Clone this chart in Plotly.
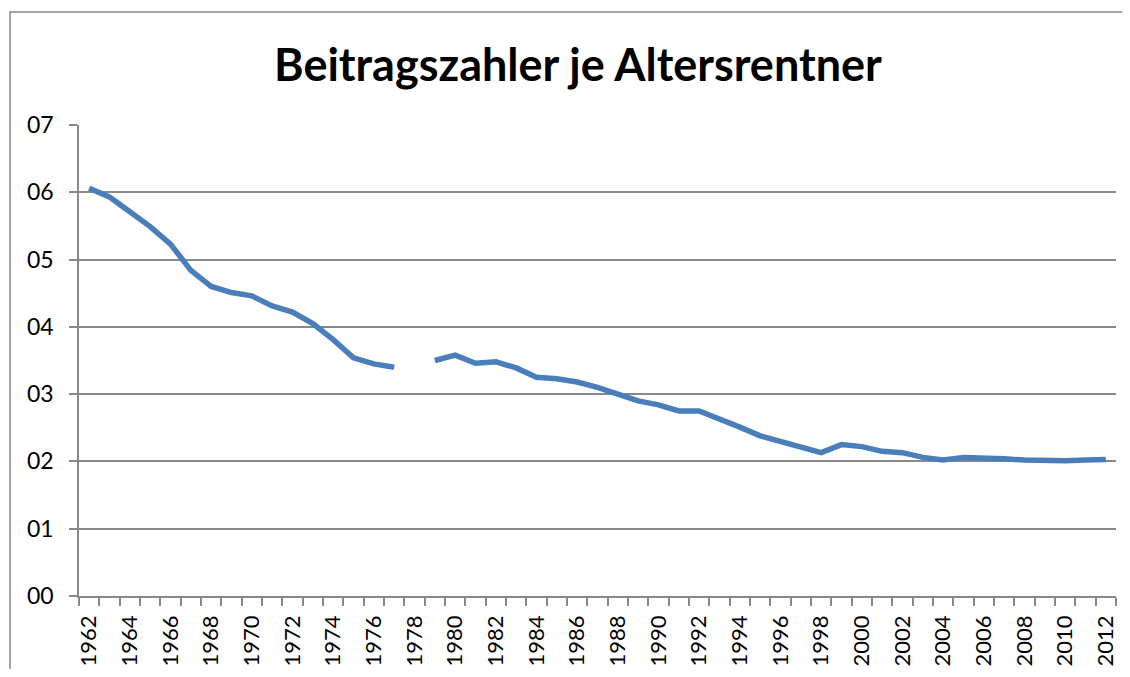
import plotly.graph_objects as go

years = list(range(1962, 2013))
ratio = [6.06, 5.93, 5.71, 5.49, 5.23, 4.84, 4.60, 4.51, 4.46, 4.31,
         4.22, 4.05, 3.81, 3.54, 3.45, 3.40, None, 3.50, 3.58, 3.46,
         3.48, 3.39, 3.25, 3.23, 3.18, 3.10, 2.99, 2.90, 2.84, 2.75,
         2.75, 2.64, 2.51, 2.38, 2.29, 2.22, 2.13, 2.25, 2.22, 2.15,
         2.13, 2.06, 2.02, 2.06, 2.06, 2.04, 2.02, 2.01, 2.01, 2.02,
         2.03]
label_years = list(range(1962, 2013, 2))
title_text = "Beitragszahler je Altersrentner"

# page has an 8px body margin; figure coordinates = page coordinates - 8
OFF = 8
W, H = 1130 - 2 * OFF, 677 - 2 * OFF
L = 79 - OFF
T = 125 - OFF
R = W - (1116 - OFF)
B = H - (596 - OFF)
pw = W - L - R
ph = H - T - B

def px_to_paper_x(px):
    return (px - OFF - L) / pw

def px_to_paper_y(py):
    return (H - B - (py - OFF)) / ph

grey = "#888888"
font = "Lato"

fig = go.Figure()
fig.add_trace(go.Scatter(
    x=years, y=ratio, mode="lines", connectgaps=False,
    line=dict(color="#4a7ebb", width=5.5), hoverinfo="x+y", showlegend=False,
))

fig.update_layout(
    width=W, height=H,
    margin=dict(l=L, r=R, t=T, b=B),
    paper_bgcolor="white", plot_bgcolor="white",
    title=dict(text="<b>" + title_text + "</b>", x=px_to_paper_x(578), xref="paper",
               xanchor="center", y=1 - (49 - OFF) / H, yref="container", yanchor="top",
               font=dict(family=font, size=45, color="black")),
    font=dict(family=font, size=22, color="black"),
    xaxis=dict(
        range=[1961.5, 2012.5], tickmode="array", tickvals=label_years,
        ticktext=[str(y) for y in label_years], tickangle=-90,
        ticks="", showgrid=False, zeroline=False, automargin=False,
        showline=True, linecolor=grey, linewidth=1.5,
        minor=dict(ticks="outside", tick0=1961.5, dtick=1, ticklen=8,
                   tickcolor=grey, tickwidth=1.5, showgrid=False),
        ticklabelstandoff=9,
        tickfont=dict(family=font, size=22, color="black"),
    ),
    yaxis=dict(
        range=[0, 7], dtick=1, tick0=0, tickformat="02d",
        showgrid=True, gridcolor=grey, gridwidth=1.5, automargin=False,
        zeroline=False, showline=True, linecolor=grey, linewidth=1.5,
        ticks="outside", ticklen=8, tickcolor=grey, tickwidth=1.5,
        ticklabelstandoff=11,
        tickfont=dict(family=font, size=23, color="black"),
    ),
    shapes=[dict(type="rect", xref="paper", yref="paper",
                 x0=px_to_paper_x(10), x1=px_to_paper_x(1160),
                 y0=px_to_paper_y(730), y1=px_to_paper_y(12),
                 line=dict(color=grey, width=1.5), fillcolor="rgba(0,0,0,0)",
                 layer="below")],
)

fig.write_html("out.html")
